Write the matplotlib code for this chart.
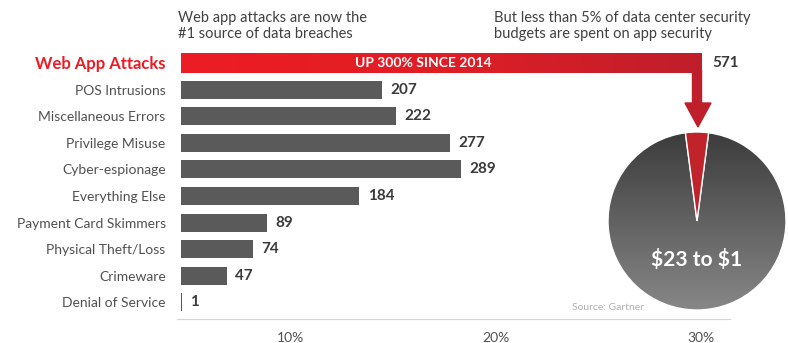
import numpy as np
import matplotlib
matplotlib.use('Agg')
import matplotlib.pyplot as plt
from matplotlib.colors import LinearSegmentedColormap
from matplotlib.patches import Polygon

plt.rcParams['font.family'] = ['Lato', 'DejaVu Sans']

categories = ['Web App Attacks', 'POS Intrusions', 'Miscellaneous Errors',
              'Privilege Misuse', 'Cyber-espionage', 'Everything Else',
              'Payment Card Skimmers', 'Physical Theft/Loss', 'Crimeware',
              'Denial of Service']
values = [571, 207, 222, 277, 289, 184, 89, 74, 47, 1]
pct_ticks = [10, 20, 30]
pct_labels = ['10%', '20%', '30%']
budget_ratio = [1, 23]   # app security vs rest ("$23 to $1")

W, H = 788, 343
GRAY = '#5a5a5a'
TEXT = '#505050'
RED = '#ed1c24'
DARKRED = '#bf1e2b'


def px(x, y):
    return x / W, 1 - y / H


fig = plt.figure(figsize=(W / 100, H / 100), dpi=100)

# bar axes: x0=181px, 0.97 px per unit, rows every 26.6px starting at 63px
x0, scale, row0, step, base = 181, 0.97, 63, 26.6, 319
top = row0 - step * 0.5
ax = fig.add_axes([x0 / W, (H - base) / H, (W - x0) / W, (base - top) / H])
xmax = (W - x0) / scale
ylow = (base - row0) / step

y = np.arange(len(categories))
gray_bars = ax.barh(y[1:], values[1:], height=0.68, color=GRAY)
for yi, v in zip(y[1:], values[1:]):
    ax.annotate(str(v), (v, yi), xytext=(6, 0), textcoords='offset points',
                va='center', ha='left', fontsize=11, fontweight='bold',
                color='#3a3a3a')

# red bar (bent arrow), with gradient
arrow_x = (697 + 5 - x0) / scale
red = ax.barh(0, arrow_x + 3, left=-3, height=0.75, color='none')[0]
grad = np.linspace(0, 1, 256).reshape(1, -1)
cm_red = LinearSegmentedColormap.from_list('r', [RED, '#e01e26', DARKRED])
im = ax.imshow(grad, extent=[-3, arrow_x, 0.375, -0.375], aspect='auto',
               cmap=cm_red, clip_path=red, zorder=2)
ax.text(250, 0, 'UP 300% SINCE 2014', color='white', fontsize=10,
        fontweight='bold', ha='center', va='center', zorder=3)
ax.text((712 - x0) / scale, 0, str(values[0]), color='#3a3a3a', fontsize=11,
        fontweight='bold', ha='left', va='center')

ax.set_xlim(0, xmax)
ax.set_ylim(ylow, -0.5)
ax.set_yticks(y)
ax.set_yticklabels(categories)
ax.tick_params(axis='y', length=0, pad=11, labelsize=10, labelcolor=TEXT)
lab0 = ax.get_yticklabels()[0]
lab0.set_color(RED)
lab0.set_fontweight('bold')
lab0.set_fontsize(12)

tick_pos = [(p - 4.7) * 21.2 for p in pct_ticks]
ax.set_xticks(tick_pos)
ax.set_xticklabels(pct_labels)
ax.tick_params(axis='x', length=0, pad=9, labelsize=10, labelcolor=TEXT)

for s in ['top', 'right', 'left']:
    ax.spines[s].set_visible(False)
ax.spines['bottom'].set_color('#d4d4d4')
ax.spines['bottom'].set_bounds(-4, (730 - x0) / scale)
ax.patch.set_alpha(0)

# arrow from the red bar down to the pie
cx, cy, r = 697, 221, 89
shaft = [(cx - 4.5, 70), (cx + 4.5, 70), (cx + 4.5, 103), (cx + 14, 103),
         (cx + 1, 127), (cx - 12, 103), (cx - 4.5, 103)]
fig.patches.append(Polygon([px(*p) for p in shaft], closed=True,
                           transform=fig.transFigure, color=DARKRED,
                           zorder=5))

# pie
pax = fig.add_axes([(cx - r) / W, (H - cy - r) / H, 2 * r / W, 2 * r / H])
wedges, _ = pax.pie(budget_ratio, startangle=90 + 180 * budget_ratio[0] / sum(budget_ratio),
                    counterclock=False, colors=['#c1232b', 'none'],
                    wedgeprops=dict(edgecolor='white', linewidth=1))
cm_gray = LinearSegmentedColormap.from_list('g', ['#878787', '#3c3c3c'])
pgrad = np.linspace(0, 1, 256).reshape(-1, 1)
pax.imshow(pgrad, extent=[-1, 1, -1, 1], origin='lower', aspect='auto',
           cmap=cm_gray, clip_path=wedges[1], zorder=0)
wedges[0].set_zorder(3)
pax.set_xlim(-1, 1)
pax.set_ylim(-1, 1)
pax.axis('off')
pax.text(0, -0.43, r'\$23 to \$1', color='white', fontsize=15,
         fontweight='bold', ha='center', va='center')

# headers and source
fig.text(*px(178, 11), 'Web app attacks are now the\n#1 source of data breaches',
         fontsize=10.5, color='#404040', va='top', ha='left', linespacing=1.15)
fig.text(*px(494, 11), 'But less than 5% of data center security\nbudgets are spent on app security',
         fontsize=10.5, color='#404040', va='top', ha='left', linespacing=1.15)
fig.text(*px(572, 307), 'Source: Gartner', fontsize=7.5, color='#b0b0b0',
         va='center', ha='left')

fig.savefig('out.png', dpi=100)
